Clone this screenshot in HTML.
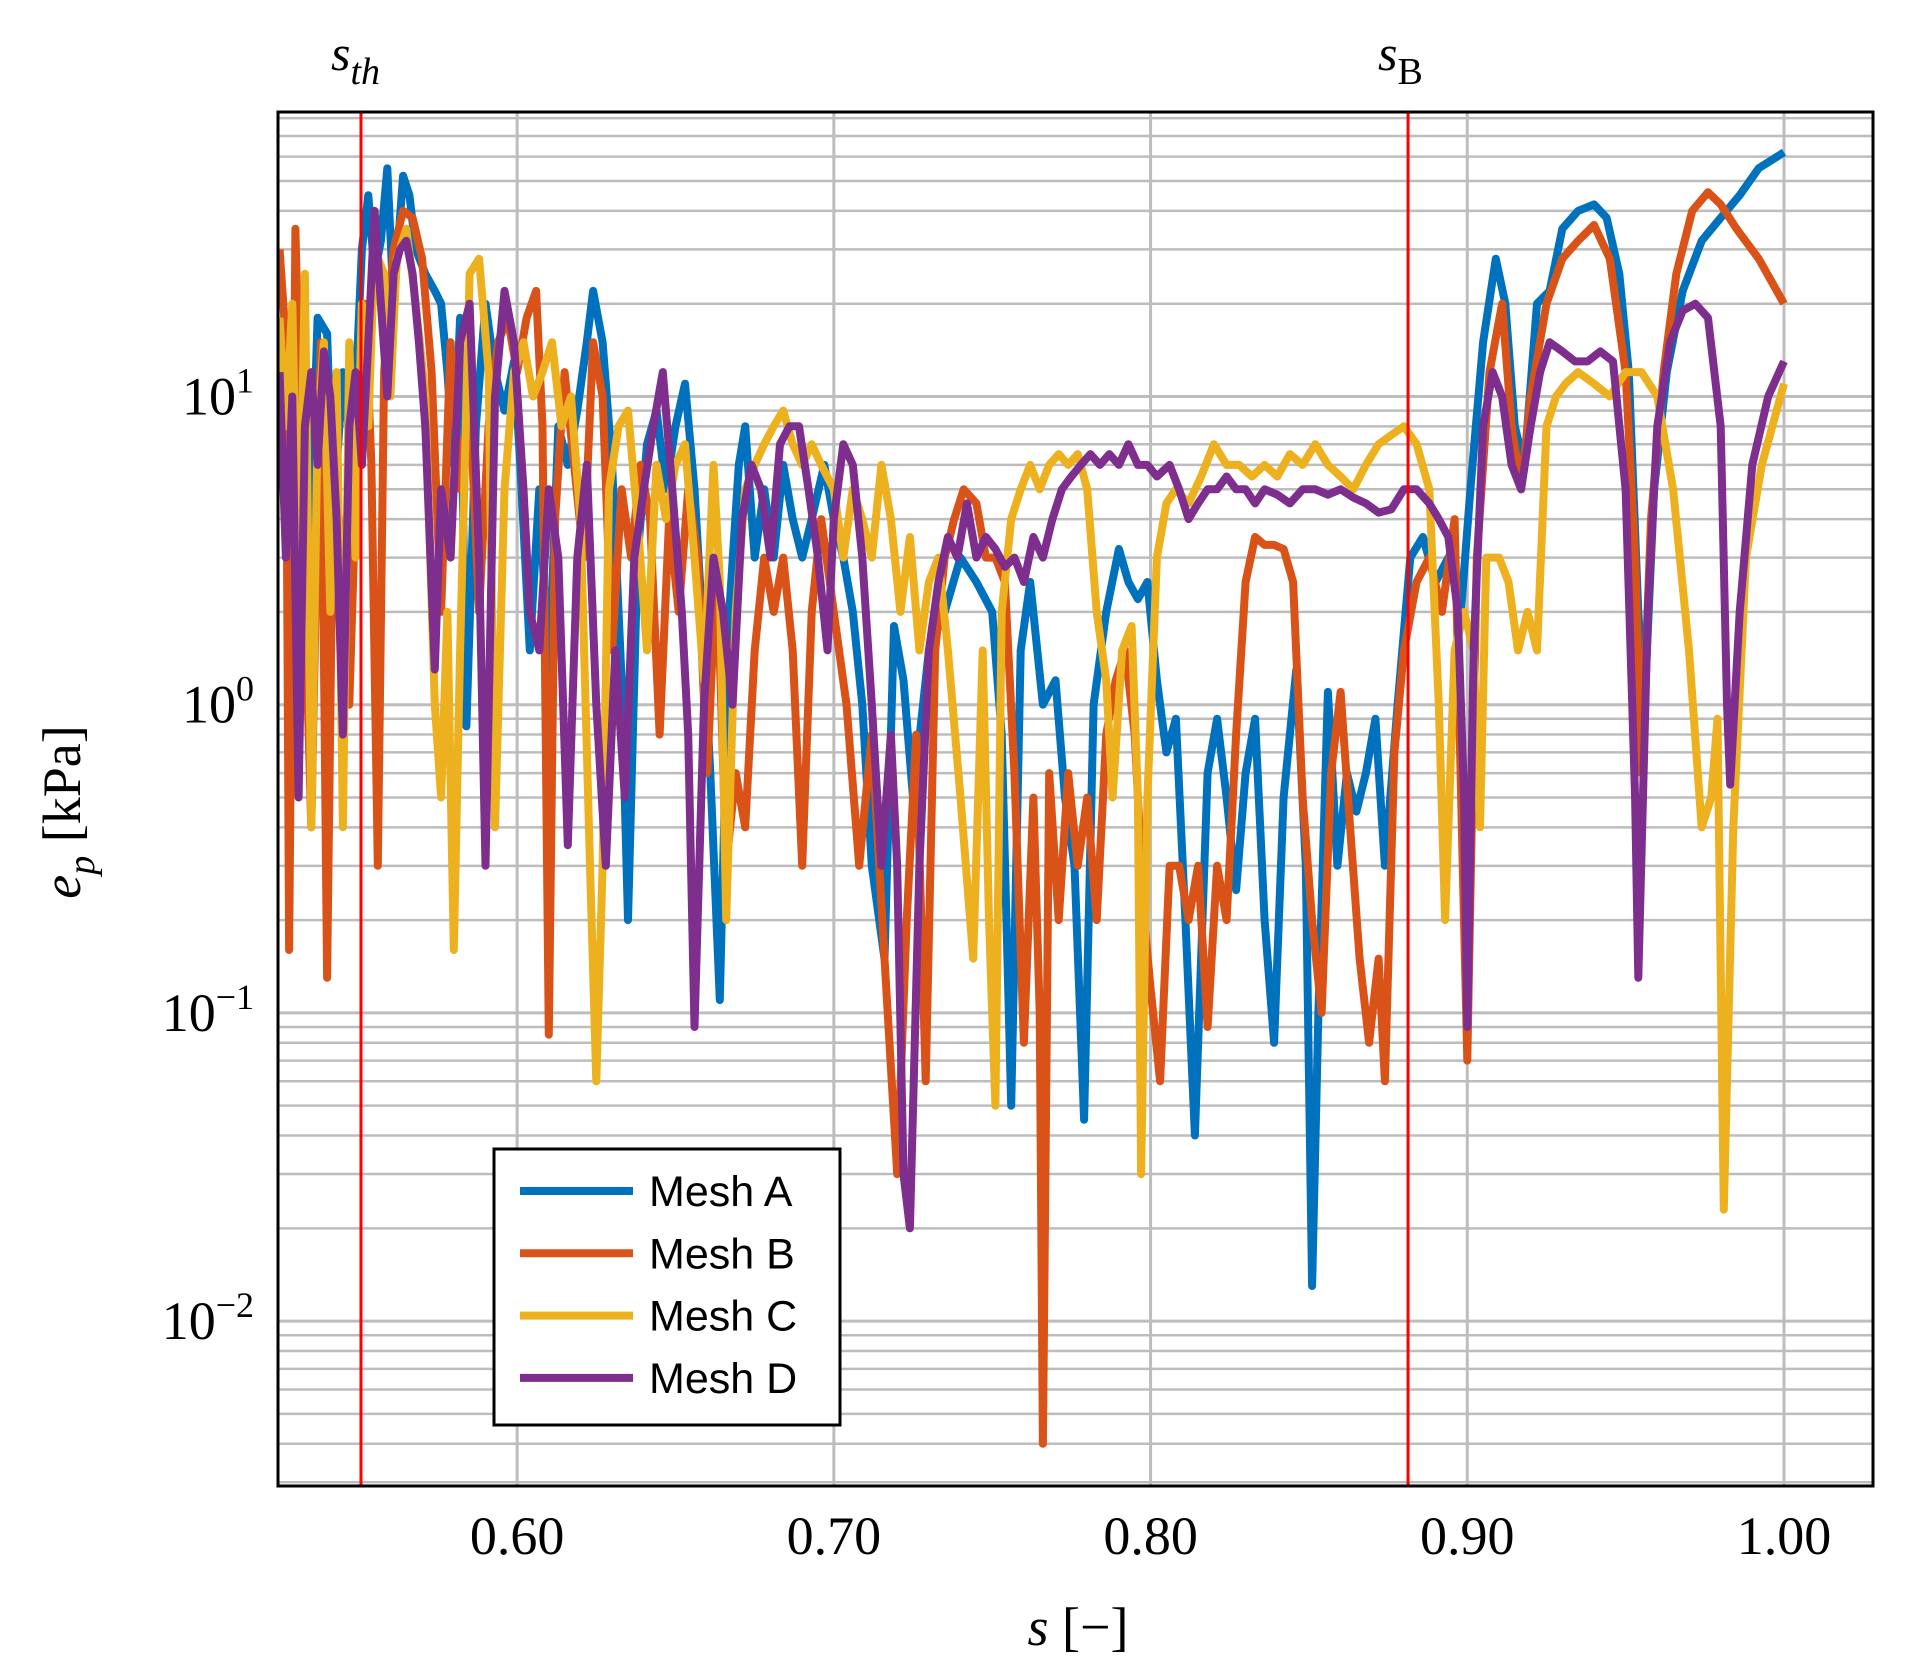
<!DOCTYPE html>
<html><head><meta charset="utf-8"><style>
html,body{margin:0;padding:0;background:#fff;}
svg{display:block;}
text{font-family:"Liberation Serif",serif;}
text.sans{font-family:"Liberation Sans",sans-serif;}
</style></head><body>
<svg id="chart" width="1913" height="1676" viewBox="0 0 1913 1676" xmlns="http://www.w3.org/2000/svg"></svg>
<script>
const xTicks=[0.60,0.70,0.80,0.90,1.00];
const xTickLabels=["0.60","0.70","0.80","0.90","1.00"];
const yDecades=[-2,-1,0,1];
const markers=[0.5507,0.8813];
const markerLabels=["th","B"];
const seriesNames=["Mesh A","Mesh B","Mesh C","Mesh D"];
const seriesColors=["#0072bd","#d95319","#edb120","#7e2f8e"];
const sA=[0.525,0.528,0.531,0.534,0.537,0.540,0.542,0.545,0.548,0.551,0.553,0.555,0.557,0.559,0.561,0.564,0.566,0.568,0.571,0.574,0.576,0.578,0.580,0.582,0.584,0.587,0.590,0.593,0.596,0.599,0.601,0.604,0.607,0.610,0.613,0.616,0.619,0.622,0.624,0.627,0.630,0.633,0.635,0.638,0.641,0.644,0.647,0.650,0.653,0.656,0.659,0.661,0.664,0.667,0.670,0.672,0.675,0.678,0.681,0.684,0.687,0.690,0.693,0.697,0.700,0.703,0.706,0.709,0.712,0.716,0.719,0.722,0.725,0.730,0.735,0.740,0.745,0.750,0.753,0.756,0.759,0.762,0.766,0.770,0.773,0.776,0.779,0.782,0.786,0.790,0.793,0.796,0.799,0.802,0.805,0.808,0.811,0.814,0.818,0.821,0.824,0.827,0.830,0.833,0.836,0.839,0.842,0.846,0.849,0.851,0.853,0.856,0.859,0.862,0.865,0.868,0.871,0.874,0.878,0.882,0.886,0.890,0.894,0.898,0.901,0.905,0.909,0.912,0.915,0.918,0.922,0.926,0.930,0.935,0.940,0.944,0.948,0.951,0.954,0.956,0.959,0.963,0.968,0.974,0.980,0.986,0.992,1.000];
const vA=[10,3,15,2,18,16,4,12,6,30,45,25,32,55,20,52,45,30,25,22,20,12,6,18,0.85,8,20,12,9,13,6,1.5,5,1.2,8,6,9,15,22,15,6,1.2,0.2,3,7,9,5,8,11,5,1.5,0.6,0.11,2,6,8,3,5,3,6,4,3,4,6,4,3,2,1.0,0.3,0.15,1.8,1.2,0.5,1.5,2,3,2.5,2,0.8,0.05,1.5,2.5,1,1.2,0.5,0.3,0.045,1,2,3.2,2.5,2.2,2.5,1.2,0.7,0.9,0.2,0.04,0.6,0.9,0.5,0.25,0.6,0.9,0.2,0.08,0.5,1.3,0.3,0.013,0.1,1.1,0.3,0.6,0.45,0.6,0.9,0.3,1.0,3,3.5,2.5,3,2,5,15,28,20,8,6,20,22,35,40,42,38,25,12,2,1.0,5,12,22,32,38,45,55,62];
const sB=[0.525,0.527,0.528,0.530,0.532,0.535,0.538,0.540,0.542,0.545,0.547,0.550,0.552,0.554,0.556,0.558,0.561,0.564,0.567,0.570,0.573,0.576,0.579,0.582,0.585,0.588,0.591,0.594,0.597,0.600,0.603,0.606,0.608,0.610,0.612,0.615,0.618,0.621,0.624,0.627,0.630,0.633,0.636,0.639,0.642,0.645,0.648,0.651,0.654,0.657,0.660,0.663,0.666,0.669,0.672,0.675,0.678,0.681,0.684,0.687,0.690,0.693,0.696,0.700,0.704,0.708,0.712,0.716,0.720,0.723,0.726,0.729,0.732,0.735,0.738,0.741,0.745,0.748,0.751,0.754,0.757,0.760,0.763,0.765,0.766,0.768,0.771,0.774,0.777,0.780,0.783,0.786,0.789,0.792,0.795,0.798,0.800,0.803,0.806,0.809,0.812,0.815,0.818,0.821,0.824,0.827,0.830,0.833,0.836,0.839,0.842,0.845,0.848,0.851,0.854,0.857,0.860,0.863,0.866,0.869,0.872,0.874,0.877,0.880,0.884,0.888,0.892,0.896,0.900,0.903,0.907,0.911,0.914,0.917,0.920,0.925,0.930,0.935,0.940,0.945,0.950,0.953,0.955,0.958,0.962,0.966,0.971,0.976,0.980,0.985,0.992,1.000];
const vB=[30,15,0.16,35,5,0.4,15,0.13,6,3,1,10,20,6,0.3,12,30,40,38,28,12,2,15,5,10,2,8,15,18,12,18,22,8,0.085,4,12,6,3,15,10,1.5,5,3,6,4,0.8,4,2,5,3,0.6,3,0.3,0.6,0.4,1.5,3,2,3,1.5,0.3,2,4,2,1,0.3,0.8,0.15,0.03,0.2,0.8,0.06,1.5,3,4,5,4.5,3,3,2.5,0.6,0.08,0.5,0.1,0.004,0.6,0.2,0.6,0.3,0.5,0.2,0.8,1.2,1.5,0.8,0.2,0.12,0.06,0.3,0.3,0.2,0.3,0.09,0.3,0.2,0.8,2.5,3.5,3.3,3.3,3.2,2.5,0.5,0.2,0.1,0.6,1.1,0.4,0.15,0.08,0.15,0.06,0.7,1.5,2.5,3,2,4,0.07,3,12,20,8,5,10,20,28,32,36,28,12,3,0.6,4,12,25,40,46,42,35,28,20];
const sC=[0.525,0.527,0.529,0.531,0.533,0.535,0.537,0.539,0.541,0.543,0.545,0.547,0.549,0.551,0.553,0.555,0.558,0.560,0.562,0.565,0.568,0.571,0.574,0.576,0.578,0.580,0.582,0.585,0.588,0.591,0.593,0.596,0.599,0.602,0.605,0.608,0.611,0.614,0.617,0.620,0.623,0.625,0.627,0.629,0.632,0.635,0.638,0.641,0.644,0.647,0.650,0.653,0.656,0.659,0.662,0.664,0.666,0.669,0.672,0.675,0.678,0.681,0.684,0.687,0.690,0.693,0.696,0.700,0.703,0.706,0.709,0.712,0.715,0.718,0.721,0.724,0.727,0.730,0.733,0.736,0.740,0.744,0.747,0.749,0.751,0.753,0.756,0.759,0.762,0.765,0.768,0.771,0.774,0.777,0.780,0.783,0.786,0.788,0.791,0.794,0.796,0.797,0.799,0.802,0.805,0.808,0.812,0.816,0.820,0.824,0.828,0.832,0.836,0.840,0.844,0.848,0.852,0.856,0.860,0.864,0.868,0.872,0.876,0.880,0.884,0.888,0.891,0.893,0.896,0.899,0.902,0.904,0.906,0.910,0.913,0.916,0.919,0.922,0.925,0.928,0.931,0.935,0.940,0.945,0.950,0.955,0.960,0.965,0.970,0.974,0.977,0.979,0.981,0.984,0.988,0.993,1.000];
const vC=[18,8,20,2,25,0.4,8,15,2,12,0.4,15,3,20,8,30,25,10,28,35,20,10,1,0.5,2,0.16,1.5,25,28,12,0.4,5,12,15,10,12,15,8,10,4,0.3,0.06,0.3,5,8,9,4,1.5,6,4,6,7,3,1.2,6,2.5,0.2,2,5,6,7,8,9,7,6,7,6,5,3,5,4,3,6,4,2,3.5,1.5,2.5,3,1.5,0.5,0.15,1.5,0.2,0.05,2,4,5,6,5,6,6.5,6,6.5,5,2,1.2,0.5,1.5,1.8,0.5,0.03,0.5,3,4.5,5,4.5,5.5,7,6,6,5.5,6,5.5,6.5,6,7,6,5.5,5,6,7,7.5,8,7,5,1,0.2,1.5,2,1.5,0.4,3,3,2.5,1.5,2,1.5,8,10,11,12,11,10,12,12,10,5,1.5,0.4,0.5,0.9,0.023,0.4,3,6,11];
const sD=[0.525,0.527,0.529,0.531,0.533,0.535,0.537,0.539,0.541,0.543,0.545,0.547,0.549,0.551,0.553,0.555,0.557,0.559,0.561,0.563,0.565,0.567,0.569,0.571,0.574,0.576,0.579,0.582,0.585,0.588,0.590,0.593,0.596,0.599,0.602,0.604,0.607,0.610,0.613,0.616,0.619,0.622,0.625,0.628,0.631,0.634,0.637,0.640,0.643,0.646,0.649,0.652,0.654,0.656,0.659,0.662,0.665,0.668,0.671,0.674,0.677,0.680,0.683,0.686,0.689,0.692,0.695,0.698,0.700,0.703,0.706,0.709,0.712,0.715,0.718,0.720,0.722,0.724,0.727,0.730,0.733,0.736,0.739,0.742,0.745,0.748,0.751,0.754,0.757,0.760,0.763,0.766,0.769,0.772,0.775,0.778,0.781,0.784,0.787,0.790,0.793,0.796,0.799,0.802,0.806,0.809,0.812,0.815,0.818,0.821,0.824,0.827,0.830,0.833,0.836,0.840,0.844,0.848,0.852,0.856,0.860,0.864,0.868,0.872,0.876,0.880,0.884,0.888,0.891,0.894,0.897,0.899,0.900,0.902,0.905,0.908,0.911,0.914,0.917,0.920,0.923,0.926,0.930,0.934,0.938,0.942,0.946,0.950,0.953,0.954,0.957,0.960,0.964,0.968,0.972,0.976,0.980,0.982,0.983,0.986,0.990,0.995,1.000];
const vD=[12,3,10,0.5,8,12,6,14,10,4,0.8,8,12,6,15,40,20,10,25,30,32,25,15,8,1.3,5,3,15,20,3,0.3,10,22,15,5,2,1.5,5,3,0.35,3,6,1,0.3,1.5,0.5,3,5,8,12,5,2,0.8,0.09,1,3,2,1,4,6,5,3,7,8,8,5,3,1.5,4,7,6,3,1,0.3,0.8,0.3,0.03,0.02,0.3,1.5,2.5,3.5,3,4.5,3,3.5,3.2,2.8,3,2.5,3.5,3,4,5,5.5,6,6.5,6,6.5,6,7,6,6,5.5,6,5,4,4.5,5,5,5.5,5,5,4.5,5,4.8,4.5,5,5,4.8,5,4.7,4.5,4.2,4.3,5,5,4.5,4,3.5,2,0.5,0.09,1.5,8,12,10,6,5,8,12,15,14,13,13,14,13,5,0.5,0.13,2,8,15,19,20,18,8,1,0.55,2,6,10,13];
const sArr=[sA,sB,sC,sD], vArr=[vA,vB,vC,vD];

const L=278,R=1873,T=112,B=1486;
const xMin=0.5245,xMax=1.0281,yMin=-2.535,yMax=1.923;
const X=s=>L+(s-xMin)/(xMax-xMin)*(R-L);
const Y=v=>B-(Math.log10(v)-yMin)/(yMax-yMin)*(B-T);
const NS="http://www.w3.org/2000/svg";
const svg=document.getElementById('chart');
function mk(tag,attrs,parent){const e=document.createElementNS(NS,tag);for(const k in attrs)e.setAttribute(k,attrs[k]);(parent||svg).appendChild(e);return e;}

const clip=mk('clipPath',{id:'pc'});mk('rect',{x:L,y:T,width:R-L,height:B-T},clip);
const grid=mk('g',{});


for(let d=-3;d<=1;d++){for(let m=1;m<=9;m++){const v=m*Math.pow(10,d);const yy=Y(v);if(yy<T||yy>B)continue;
 const ln=mk('line',{x1:L,x2:R,y1:yy,y2:yy,stroke:'#bdbdbd','stroke-width':m===1?3:2.5},grid);
 
 }}
xTicks.forEach((t,i)=>{const xx=X(t);
 const ln=mk('line',{x1:xx,x2:xx,y1:T,y2:B,stroke:'#bdbdbd','stroke-width':3},grid);
 
 
 const tx=mk('text',{x:xx,y:1554,'font-size':54,'text-anchor':'middle',fill:'#000'});tx.textContent=xTickLabels[i];
 
 });
yDecades.forEach(d=>{const yy=Y(Math.pow(10,d));
 const tx=mk('text',{x:254,y:yy+18,'font-size':54,'text-anchor':'end',fill:'#000'});
 
 
 const t1=mk('tspan',{},tx);t1.textContent='10';
 const t2=mk('tspan',{dy:-22,'font-size':36},tx);t2.textContent=d<0?'\u2212'+(-d):String(d);});

const lines=mk('g',{'clip-path':'url(#pc)'});
sArr.forEach((sa,k)=>{const va=vArr[k];
 const p=mk('polyline',{points:sa.map((s,i)=>X(s).toFixed(1)+','+Y(va[i]).toFixed(1)).join(' '),fill:'none',stroke:seriesColors[k],'stroke-width':8,'stroke-linejoin':'round'},lines);
 
 });

markers.forEach((m,i)=>{const xx=X(m);
 const ln=mk('line',{x1:xx,x2:xx,y1:T,y2:B,stroke:'#ff0000','stroke-width':3});
 
 
 const tx=mk('text',{x:xx-30,y:70,'font-size':50,'font-style':'italic',fill:'#000'});
 
 
 const a=mk('tspan',{},tx);a.textContent='s';
 const b=mk('tspan',{dy:14,'font-size':38,'font-style':markerLabels[i]==='B'?'normal':'italic'},tx);b.textContent=markerLabels[i];});

const frame=mk('rect',{x:L,y:T,width:R-L,height:B-T,fill:'none',stroke:'#000','stroke-width':3});



const lg=mk('g',{});


mk('rect',{x:494,y:1149,width:346,height:276,fill:'#fff',stroke:'#000','stroke-width':3},lg);
seriesNames.forEach((n,k)=>{const yy=1191+k*62.3;
 const ln=mk('line',{x1:520,x2:633,y1:yy,y2:yy,stroke:seriesColors[k],'stroke-width':8},lg);
 
 
 const tx=mk('text',{x:649,y:yy+15,'font-size':43,fill:'#000','class':'sans'},lg);
 
 
 tx.textContent=n;});

const xt=mk('text',{x:1078,y:1645,'font-size':54,'text-anchor':'middle',fill:'#000'});


const xa=mk('tspan',{'font-style':'italic'},xt);xa.textContent='s';
const xb=mk('tspan',{},xt);xb.textContent='  [\u2212]';
const yt=mk('text',{transform:'translate(80,812) rotate(-90)','font-size':54,'text-anchor':'middle',fill:'#000'});


const ya=mk('tspan',{'font-style':'italic'},yt);ya.textContent='e';
const yb=mk('tspan',{'font-style':'italic',dy:14,'font-size':38},yt);yb.textContent='p';
const yc=mk('tspan',{dy:-14},yt);yc.textContent='  [kPa]';
</script>
</body></html>
